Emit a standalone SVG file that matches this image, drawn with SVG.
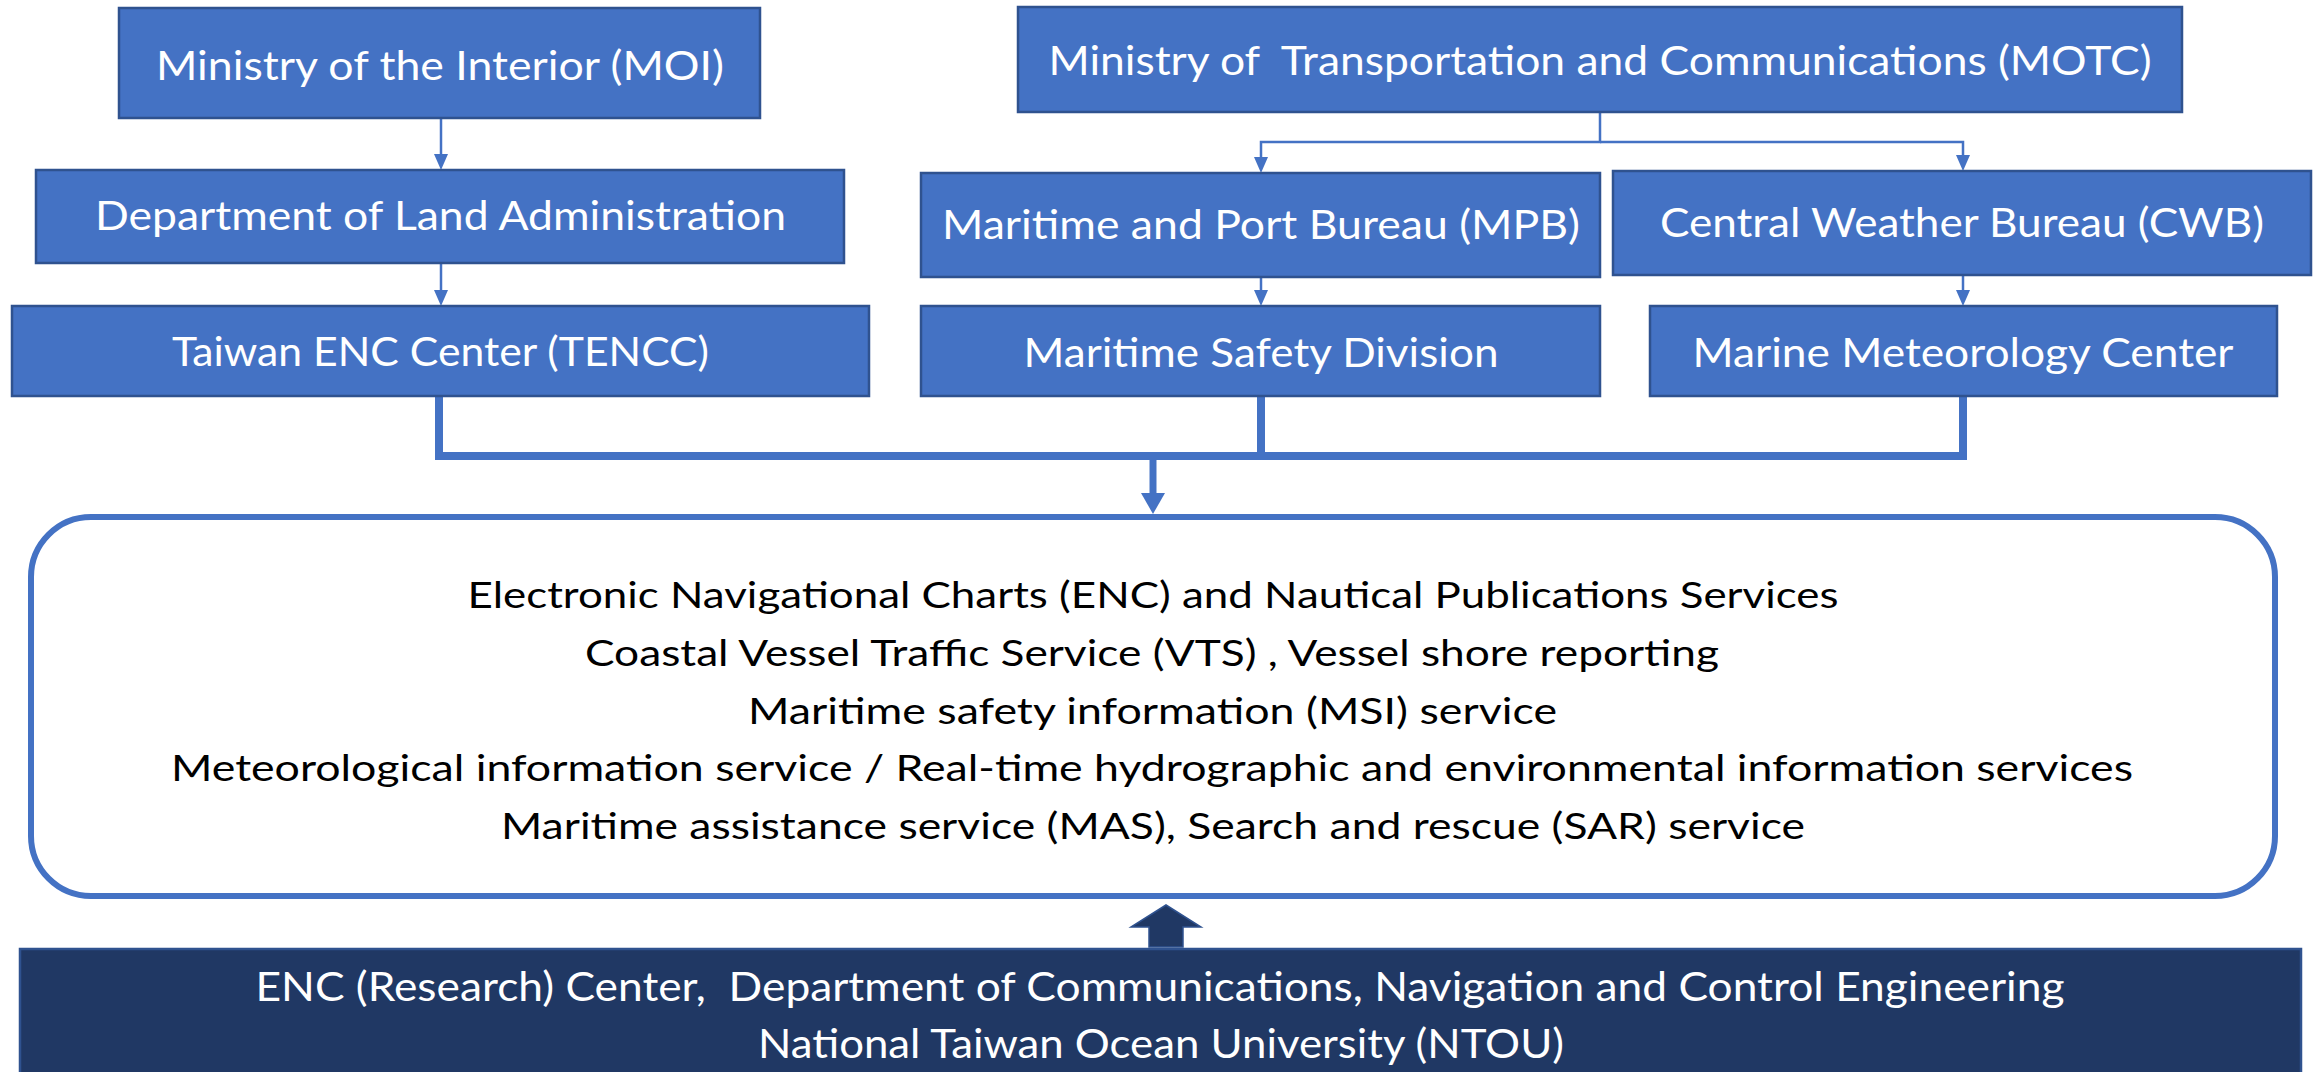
<svg xmlns="http://www.w3.org/2000/svg" width="2318" height="1072" viewBox="0 0 2318 1072">
<defs>
<style>
.box{fill:#4472C4;stroke:#2F528F;stroke-width:2.5}
.lbl{font-family:Lato,"Liberation Sans",sans-serif;font-size:41px;fill:#FFFFFF;text-anchor:middle;white-space:pre}
.svc{font-family:Lato,"Liberation Sans",sans-serif;font-size:36px;fill:#000000;text-anchor:middle}
.ntou{font-family:Lato,"Liberation Sans",sans-serif;font-size:40px;fill:#FFFFFF;text-anchor:middle;white-space:pre}
.thin{fill:none;stroke:#4472C4;stroke-width:2.5}
.thick{fill:none;stroke:#4472C4;stroke-width:8}
</style>
</defs>
<rect width="2318" height="1072" fill="#FFFFFF"/>

<g id="connectors">
<path class="thin" d="M441,118 V154"/>
<path d="M434,154 L448,154 L441,170 Z" fill="#4472C4"/>
<path class="thin" d="M441,263 V290"/>
<path d="M434,290 L448,290 L441,306 Z" fill="#4472C4"/>
<path class="thin" d="M1600,112 V142 H1261 V157"/>
<path d="M1254,157 L1268,157 L1261,173 Z" fill="#4472C4"/>
<path class="thin" d="M1600,142 H1963 V155"/>
<path d="M1956,155 L1970,155 L1963,171 Z" fill="#4472C4"/>
<path class="thin" d="M1261,277 V290"/>
<path d="M1254,290 L1268,290 L1261,306 Z" fill="#4472C4"/>
<path class="thin" d="M1963,275 V290"/>
<path d="M1956,290 L1970,290 L1963,306 Z" fill="#4472C4"/>
<path class="thick" d="M439,396 V456 H1963 V396"/>
<path class="thick" d="M1261,396 V456"/>
<path d="M1153,456 V495" fill="none" stroke="#4472C4" stroke-width="7"/>
<path d="M1141,493 L1165,493 L1153,514 Z" fill="#4472C4"/>
<path d="M1166,905 L1201,927 L1183,927 L1183,947 L1149,947 L1149,927 L1131,927 Z" fill="#203864" stroke="#2F528F" stroke-width="1.5"/>
</g>

<g id="moi">
<rect class="box" x="119" y="8" width="641" height="110"/>
<text class="lbl" x="440" y="80" textLength="568" lengthAdjust="spacingAndGlyphs">Ministry of the Interior (MOI)</text>
</g>
<g id="dla">
<rect class="box" x="36" y="170" width="808" height="93"/>
<text class="lbl" x="440.5" y="230" textLength="691" lengthAdjust="spacingAndGlyphs">Department of Land Administration</text>
</g>
<g id="tencc">
<rect class="box" x="12" y="306" width="857" height="90"/>
<text class="lbl" x="440.5" y="366" textLength="537" lengthAdjust="spacingAndGlyphs">Taiwan ENC Center (TENCC)</text>
</g>
<g id="motc">
<rect class="box" x="1018" y="7" width="1164" height="105"/>
<text class="lbl" x="1600" y="75" textLength="1103" lengthAdjust="spacingAndGlyphs">Ministry of  Transportation and Communications (MOTC)</text>
</g>
<g id="mpb">
<rect class="box" x="921" y="173" width="679" height="104"/>
<text class="lbl" x="1261" y="239" textLength="638" lengthAdjust="spacingAndGlyphs">Maritime and Port Bureau (MPB)</text>
</g>
<g id="cwb">
<rect class="box" x="1613" y="171" width="698" height="104"/>
<text class="lbl" x="1962" y="237" textLength="604" lengthAdjust="spacingAndGlyphs">Central Weather Bureau (CWB)</text>
</g>
<g id="msd">
<rect class="box" x="921" y="306" width="679" height="90"/>
<text class="lbl" x="1261" y="367" textLength="475" lengthAdjust="spacingAndGlyphs">Maritime Safety Division</text>
</g>
<g id="mmc">
<rect class="box" x="1650" y="306" width="627" height="90"/>
<text class="lbl" x="1963" y="367" textLength="541" lengthAdjust="spacingAndGlyphs">Marine Meteorology Center</text>
</g>

<g id="services">
<rect x="31" y="517" width="2244" height="379" rx="60" ry="60" fill="#FFFFFF" stroke="#4472C4" stroke-width="6"/>
<text class="svc" x="1153" y="607.5" textLength="1371" lengthAdjust="spacingAndGlyphs">Electronic Navigational Charts (ENC) and Nautical Publications Services</text>
<text class="svc" x="1152" y="665.5" textLength="1134" lengthAdjust="spacingAndGlyphs">Coastal Vessel Traffic Service (VTS) , Vessel shore reporting</text>
<text class="svc" x="1152.5" y="723.5" textLength="809" lengthAdjust="spacingAndGlyphs">Maritime safety information (MSI) service</text>
<text class="svc" x="1152" y="781" textLength="1962" lengthAdjust="spacingAndGlyphs">Meteorological information service / Real-time hydrographic and environmental information services</text>
<text class="svc" x="1153" y="839" textLength="1304" lengthAdjust="spacingAndGlyphs">Maritime assistance service (MAS), Search and rescue (SAR) service</text>
</g>

<g id="ntou">
<rect x="20" y="949" width="2281" height="130" fill="#203864" stroke="#2F528F" stroke-width="2.5"/>
<text class="ntou" x="1160" y="1000.5" textLength="1809" lengthAdjust="spacingAndGlyphs">ENC (Research) Center,  Department of Communications, Navigation and Control Engineering</text>
<text class="ntou" x="1161" y="1058" textLength="806" lengthAdjust="spacingAndGlyphs">National Taiwan Ocean University (NTOU)</text>
</g>
</svg>
